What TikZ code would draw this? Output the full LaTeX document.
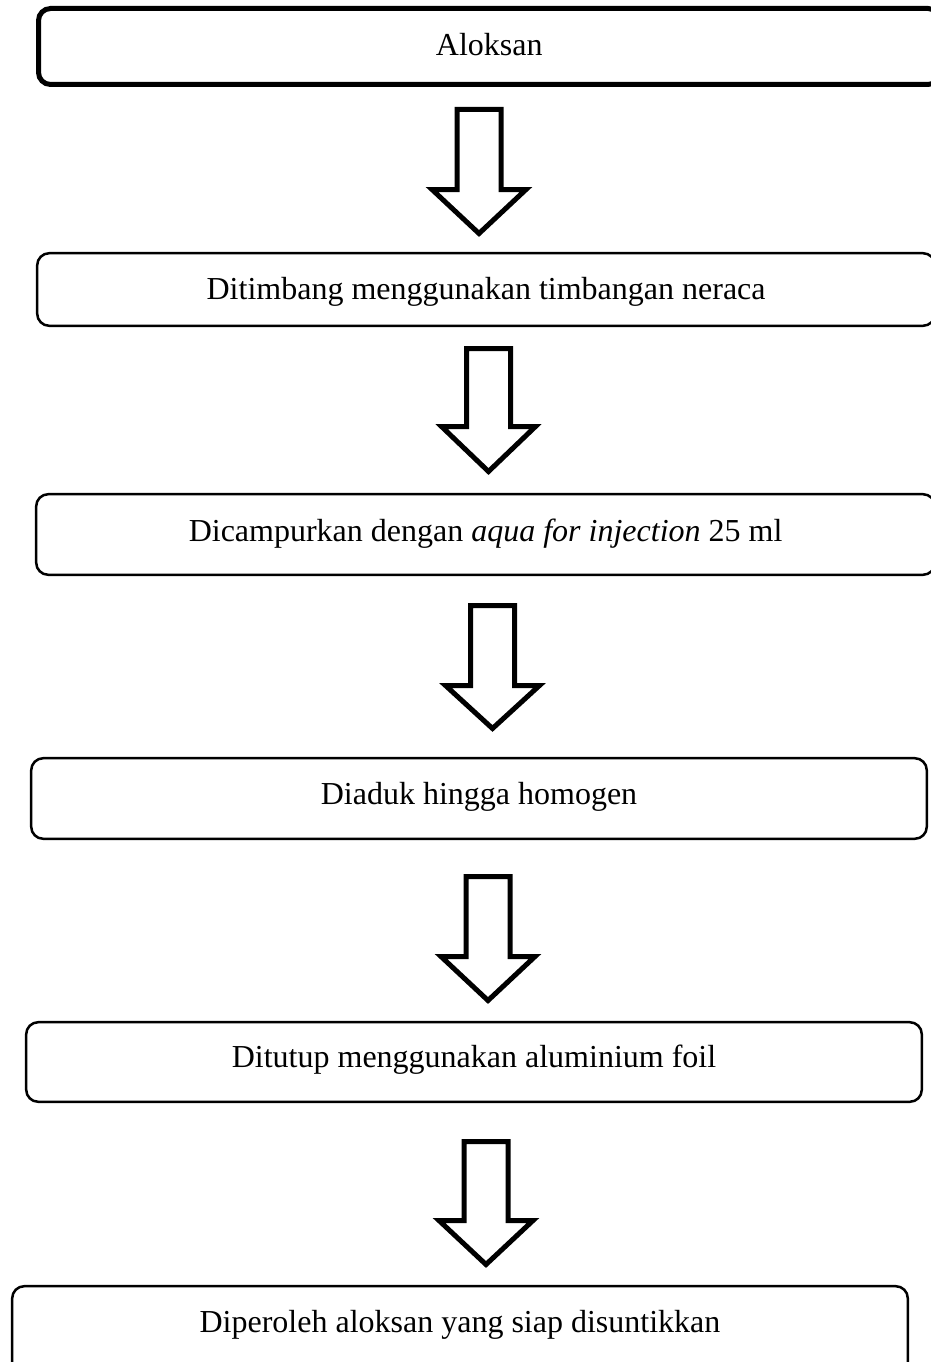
\documentclass[tikz,border=0pt]{standalone}
\usepackage{fontspec}
\setmainfont{Liberation Serif}
% hollow block arrow pointing down: centre x, top, head start, tip (outer edges)
\newcommand\flowarrow[4]{%
  \draw[blockarrow] (#1-22,#2+2.5) -- (#1+22,#2+2.5) -- (#1+22,#3+2.5)
    -- (#1+47,#3+2.5) -- (#1,#4-3.5) -- (#1-47,#3+2.5) -- (#1-22,#3+2.5) -- cycle;}
\begin{document}
\begin{tikzpicture}[x=1pt,y=-1pt,
  stepbox/.style={draw=black, line width=2.5pt, rounded corners=12pt,
    inner xsep=0pt, inner ysep=0pt, anchor=base, align=center,
    font=\fontsize{32}{38}\selectfont},
  blockarrow/.style={draw=black, line width=5pt, fill=white, line join=miter}]
\fill[white] (0,0) rectangle (930,1362);
\useasboundingbox (0,0) rectangle (930,1362);

\node[stepbox, line width=5pt, minimum width=901.5pt,
      text height=47.5pt, text depth=28.5pt] (s1) at (489.25,56) {Aloksan};
\node[stepbox, minimum width=897.8pt, text height=45.8pt, text depth=26.8pt]
      (s2) at (486.1,299) {Ditimbang menggunakan timbangan neraca};
\node[stepbox, minimum width=898.8pt, text height=46.8pt, text depth=33.8pt]
      (s3) at (485.6,541) {Dicampurkan dengan \textit{aqua for injection} 25 ml};
\node[stepbox, minimum width=895.6pt, text height=45.8pt, text depth=34.8pt]
      (s4) at (479,804) {Diaduk hingga homogen};
\node[stepbox, minimum width=895.6pt, text height=44.8pt, text depth=34.8pt]
      (s5) at (474,1067) {Ditutup menggunakan aluminium foil};
\node[stepbox, minimum width=895.6pt, text height=45.8pt, text depth=48pt]
      (s6) at (460,1332) {Diperoleh aloksan yang siap disuntikkan};

\flowarrow{479}{107}{187}{237}
\flowarrow{488.5}{346}{424}{475}
\flowarrow{492.5}{603}{683}{732}
\flowarrow{488}{874}{954}{1004}
\flowarrow{486}{1139}{1218}{1268}
\end{tikzpicture}
\end{document}
